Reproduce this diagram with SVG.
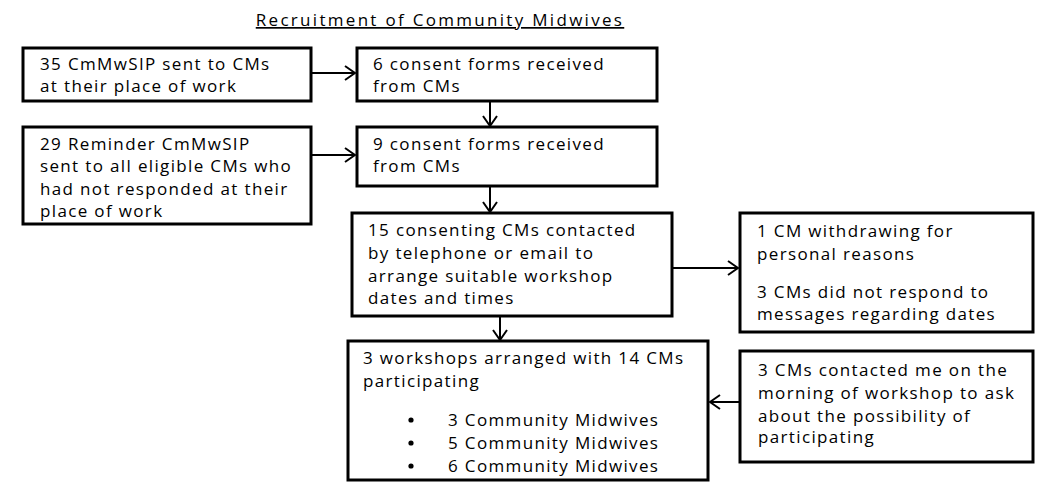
<svg xmlns="http://www.w3.org/2000/svg" width="1040" height="484" viewBox="0 0 1040 484">
<defs>
<style>
.box{fill:#fff;stroke:#000;stroke-width:3}
.t{font-family:"Open Sans","Liberation Sans",sans-serif;font-size:17px;letter-spacing:1.35px;fill:#000}
.ttl{font-family:"Open Sans","Liberation Sans",sans-serif;font-size:17px;letter-spacing:2.3px;fill:#000;text-decoration:underline}
.ln{stroke:#000;stroke-width:2;fill:none}
</style>
<marker id="ah" viewBox="0 0 12 16" refX="11" refY="8" markerWidth="12" markerHeight="16" markerUnits="userSpaceOnUse" orient="auto">
<path d="M1,1 L11,8 L1,15" fill="none" stroke="#000" stroke-width="2"/>
</marker>
<clipPath id="clipC"><rect x="24" y="128" width="286" height="95"/></clipPath>
</defs>
<rect width="1040" height="484" fill="#fff"/>
<text class="ttl" x="440" y="26" text-anchor="middle">Recruitment of Community Midwives</text>
<g id="connectors">
<line class="ln" x1="311" y1="73" x2="355" y2="73" marker-end="url(#ah)"/>
<line class="ln" x1="490" y1="101" x2="490" y2="126" marker-end="url(#ah)"/>
<line class="ln" x1="311" y1="155" x2="355" y2="155" marker-end="url(#ah)"/>
<line class="ln" x1="490" y1="186" x2="490" y2="212" marker-end="url(#ah)"/>
<line class="ln" x1="672" y1="268" x2="738" y2="268" marker-end="url(#ah)"/>
<line class="ln" x1="500" y1="316" x2="500" y2="340" marker-end="url(#ah)"/>
<line class="ln" x1="740" y1="402" x2="710" y2="402" marker-end="url(#ah)"/>
</g>
<g id="nodeA">
<rect class="box" x="23" y="48" width="288" height="53"/>
<text class="t" x="40" y="70">35 CmMwSIP sent to CMs</text>
<text class="t" x="40" y="92">at their place of work</text>
</g>
<g id="nodeB">
<rect class="box" x="357" y="48" width="300" height="53"/>
<text class="t" x="373" y="70">6 consent forms received</text>
<text class="t" x="373" y="92">from CMs</text>
</g>
<g id="nodeC">
<rect class="box" x="23" y="127" width="288" height="97"/>
<g clip-path="url(#clipC)">
<text class="t" x="40" y="150">29 Reminder CmMwSIP</text>
<text class="t" x="40" y="172">sent to all eligible CMs who</text>
<text class="t" x="40" y="195">had not responded at their</text>
<text class="t" x="40" y="217">place of work</text>
</g>
</g>
<g id="nodeD">
<rect class="box" x="357" y="127" width="300" height="59"/>
<text class="t" x="373" y="150">9 consent forms received</text>
<text class="t" x="373" y="172">from CMs</text>
</g>
<g id="nodeE">
<rect class="box" x="352" y="213" width="320" height="103"/>
<text class="t" x="368" y="236">15 consenting CMs contacted</text>
<text class="t" x="368" y="259">by telephone or email to</text>
<text class="t" x="368" y="282">arrange suitable workshop</text>
<text class="t" x="368" y="304">dates and times</text>
</g>
<g id="nodeF">
<rect class="box" x="740" y="213" width="293" height="119"/>
<text class="t" x="757" y="237">1 CM withdrawing for</text>
<text class="t" x="757" y="260">personal reasons</text>
<text class="t" x="757" y="298">3 CMs did not respond to</text>
<text class="t" x="757" y="320">messages regarding dates</text>
</g>
<g id="nodeG">
<rect class="box" x="348" y="341" width="360" height="139"/>
<text class="t" x="363" y="364">3 workshops arranged with 14 CMs</text>
<text class="t" x="363" y="387">participating</text>
<circle cx="411" cy="420" r="2.6"/>
<circle cx="411" cy="443" r="2.6"/>
<circle cx="411" cy="466" r="2.6"/>
<text class="t" x="448" y="426">3 Community Midwives</text>
<text class="t" x="448" y="449">5 Community Midwives</text>
<text class="t" x="448" y="472">6 Community Midwives</text>
</g>
<g id="nodeH">
<rect class="box" x="740" y="351" width="293" height="111"/>
<text class="t" x="758" y="376">3 CMs contacted me on the</text>
<text class="t" x="758" y="399">morning of workshop to ask</text>
<text class="t" x="758" y="422">about the possibility of</text>
<text class="t" x="758" y="443">participating</text>
</g>
</svg>
